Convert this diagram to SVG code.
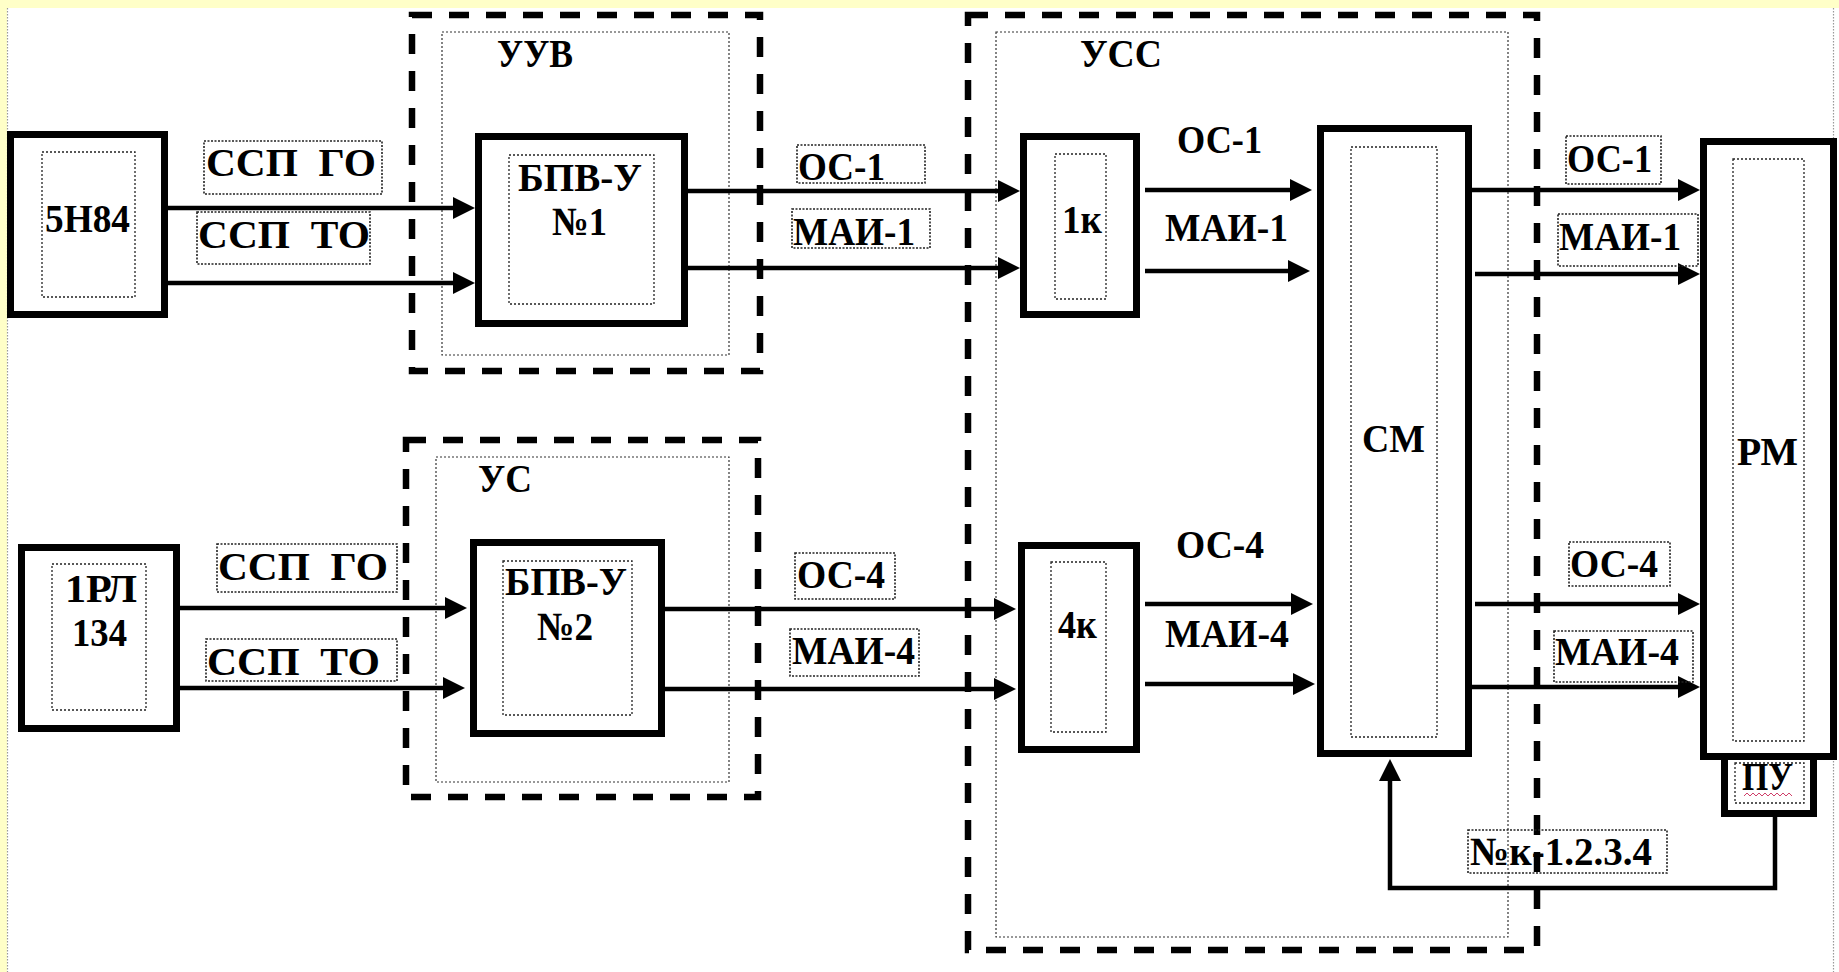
<svg xmlns="http://www.w3.org/2000/svg" width="1839" height="972" viewBox="0 0 1839 972">
<style>
text{font-family:"Liberation Serif","Times New Roman",serif;font-weight:bold;font-size:40px;fill:#000}
.box{fill:#fff;stroke:#000;stroke-width:7}
.in{fill:none;stroke:#222;stroke-width:1.3;stroke-dasharray:2 2}
.lbl{fill:none;stroke:#222;stroke-width:1.6;stroke-dasharray:2 1.5}
.grp{fill:none;stroke:#000;stroke-width:6.5;stroke-dasharray:20 17}
.gin{fill:none;stroke:#333;stroke-width:1.2;stroke-dasharray:2 2}
.edge{fill:none;stroke:#000;stroke-width:4.5}
.frame{stroke:#999;stroke-width:1.2;stroke-dasharray:1.5 1.5}
</style>
<defs>
<marker id="ah" markerUnits="userSpaceOnUse" markerWidth="22" markerHeight="22" refX="12" refY="11" orient="auto">
<path d="M0,0 L22,11 L0,22 z" fill="#000"/>
</marker>
</defs>
<rect x="0" y="0" width="1839" height="972" fill="#FFFFC8"/>
<rect x="7" y="8" width="1832" height="964" fill="#fff"/>
<line class="frame" x1="7.5" y1="8" x2="7.5" y2="972"/>
<line class="frame" x1="1833.5" y1="8" x2="1833.5" y2="972"/>

<g id="group-UUV">
<rect class="grp" x="412" y="15" width="348" height="356"/>
<rect class="gin" x="442" y="32" width="287" height="323"/>
<text x="497" y="67" textLength="76" lengthAdjust="spacingAndGlyphs">УУВ</text>
</g>
<g id="group-US">
<rect class="grp" x="406" y="440" width="352" height="357"/>
<rect class="gin" x="436" y="457" width="293" height="325"/>
<text x="478" y="492" textLength="54" lengthAdjust="spacingAndGlyphs">УС</text>
</g>
<g id="group-USS">
<rect class="grp" x="968" y="15" width="569" height="935"/>
<rect class="gin" x="996" y="32" width="512" height="905"/>
<text x="1080" y="67" textLength="82" lengthAdjust="spacingAndGlyphs">УСС</text>
</g>

<g id="node-5N84">
<rect class="box" x="10.5" y="134.5" width="154" height="180"/>
<rect class="in" x="42" y="152" width="93" height="145"/>
<text x="45" y="232" textLength="85" lengthAdjust="spacingAndGlyphs">5Н84</text>
</g>
<g id="node-1RL134">
<rect class="box" x="21.5" y="547.5" width="155" height="181"/>
<rect class="in" x="52" y="564" width="94" height="146"/>
<text x="65" y="602" textLength="72" lengthAdjust="spacingAndGlyphs">1РЛ</text>
<text x="72" y="646" textLength="55" lengthAdjust="spacingAndGlyphs">134</text>
</g>
<g id="node-BPVU1">
<rect class="box" x="478.5" y="136.5" width="206" height="187"/>
<rect class="in" x="509" y="155" width="145" height="149"/>
<text x="518" y="191" textLength="124" lengthAdjust="spacingAndGlyphs">БПВ-У</text>
<text x="552" y="235" textLength="55" lengthAdjust="spacingAndGlyphs">№1</text>
</g>
<g id="node-BPVU2">
<rect class="box" x="473.5" y="542.5" width="188" height="191"/>
<rect class="in" x="503" y="561" width="129" height="154"/>
<text x="505" y="595" textLength="122" lengthAdjust="spacingAndGlyphs">БПВ-У</text>
<text x="537" y="640" textLength="56" lengthAdjust="spacingAndGlyphs">№2</text>
</g>
<g id="node-1k">
<rect class="box" x="1023.5" y="136.5" width="113" height="178"/>
<rect class="in" x="1055" y="154" width="51" height="145"/>
<text x="1062" y="233" textLength="40" lengthAdjust="spacingAndGlyphs">1к</text>
</g>
<g id="node-4k">
<rect class="box" x="1021.5" y="545.5" width="115" height="204"/>
<rect class="in" x="1051" y="562" width="55" height="170"/>
<text x="1058" y="638" textLength="39" lengthAdjust="spacingAndGlyphs">4к</text>
</g>
<g id="node-SM">
<rect class="box" x="1320.5" y="128.5" width="148" height="625"/>
<rect class="in" x="1351" y="147" width="86" height="590"/>
<text x="1362" y="452" textLength="63" lengthAdjust="spacingAndGlyphs">СМ</text>
</g>
<g id="node-PU">
<path d="M1724.5,757 V813.5 H1813.5 V757" fill="#fff" stroke="#000" stroke-width="7"/>
<rect class="in" x="1735" y="763" width="69" height="40"/>
<text x="1742" y="790" font-size="34" textLength="51" lengthAdjust="spacingAndGlyphs">ПУ</text>
<polyline points="1744,796 1747,793 1750,796 1753,793 1756,796 1759,793 1762,796 1765,793 1768,796 1771,793 1774,796 1777,793 1780,796 1783,793 1786,796 1789,793 1792,796" fill="none" stroke="#d0406a" stroke-width="1"/>
</g>
<g id="node-RM">
<rect class="box" x="1703.5" y="141.5" width="130" height="615"/>
<rect class="in" x="1733" y="159" width="71" height="582"/>
<text x="1737" y="465" textLength="61" lengthAdjust="spacingAndGlyphs">РМ</text>
</g>

<g id="connectors">
<line class="edge" x1="168" y1="208" x2="465" y2="208" marker-end="url(#ah)"/>
<line class="edge" x1="168" y1="283" x2="465" y2="283" marker-end="url(#ah)"/>
<line class="edge" x1="688" y1="191" x2="1010" y2="191" marker-end="url(#ah)"/>
<line class="edge" x1="688" y1="268" x2="1010" y2="268" marker-end="url(#ah)"/>
<line class="edge" x1="1145" y1="190" x2="1302" y2="190" marker-end="url(#ah)"/>
<line class="edge" x1="1145" y1="271" x2="1300" y2="271" marker-end="url(#ah)"/>
<line class="edge" x1="1472" y1="190" x2="1690" y2="190" marker-end="url(#ah)"/>
<line class="edge" x1="1475" y1="274" x2="1690" y2="274" marker-end="url(#ah)"/>
<line class="edge" x1="180" y1="608" x2="457" y2="608" marker-end="url(#ah)"/>
<line class="edge" x1="180" y1="688" x2="455" y2="688" marker-end="url(#ah)"/>
<line class="edge" x1="665" y1="609" x2="1006" y2="609" marker-end="url(#ah)"/>
<line class="edge" x1="665" y1="689" x2="1006" y2="689" marker-end="url(#ah)"/>
<line class="edge" x1="1145" y1="604" x2="1303" y2="604" marker-end="url(#ah)"/>
<line class="edge" x1="1145" y1="684" x2="1305" y2="684" marker-end="url(#ah)"/>
<line class="edge" x1="1475" y1="604" x2="1690" y2="604" marker-end="url(#ah)"/>
<line class="edge" x1="1472" y1="687" x2="1690" y2="687" marker-end="url(#ah)"/>
<path class="edge" d="M1775,817 V888 H1390 V769" stroke-width="4" marker-end="url(#ah)"/>
</g>

<g id="labels">
<rect class="lbl" x="204" y="141" width="178" height="53"/>
<text x="206" y="176" xml:space="preserve" textLength="170" lengthAdjust="spacingAndGlyphs">ССП  ГО</text>
<rect class="lbl" x="197" y="212" width="173" height="52"/>
<text x="198" y="248" xml:space="preserve" textLength="172" lengthAdjust="spacingAndGlyphs">ССП  ТО</text>
<rect class="lbl" x="797" y="145" width="128" height="38"/>
<text x="798" y="180" textLength="87" lengthAdjust="spacingAndGlyphs">ОС-1</text>
<rect class="lbl" x="792" y="209" width="138" height="39"/>
<text x="793" y="245" textLength="122" lengthAdjust="spacingAndGlyphs">МАИ-1</text>
<text x="1177" y="153" textLength="85" lengthAdjust="spacingAndGlyphs">ОС-1</text>
<text x="1165" y="241" textLength="123" lengthAdjust="spacingAndGlyphs">МАИ-1</text>
<rect class="lbl" x="1566" y="136" width="95" height="48"/>
<text x="1567" y="172" textLength="85" lengthAdjust="spacingAndGlyphs">ОС-1</text>
<rect class="lbl" x="1558" y="214" width="140" height="52"/>
<text x="1559" y="250" textLength="122" lengthAdjust="spacingAndGlyphs">МАИ-1</text>
<rect class="lbl" x="217" y="544" width="180" height="48"/>
<text x="218" y="580" xml:space="preserve" textLength="170" lengthAdjust="spacingAndGlyphs">ССП  ГО</text>
<rect class="lbl" x="206" y="639" width="191" height="42"/>
<text x="207" y="675" xml:space="preserve" textLength="173" lengthAdjust="spacingAndGlyphs">ССП  ТО</text>
<rect class="lbl" x="795" y="553" width="100" height="46"/>
<text x="797" y="588" textLength="88" lengthAdjust="spacingAndGlyphs">ОС-4</text>
<rect class="lbl" x="790" y="629" width="129" height="47"/>
<text x="792" y="664" textLength="123" lengthAdjust="spacingAndGlyphs">МАИ-4</text>
<text x="1176" y="558" textLength="88" lengthAdjust="spacingAndGlyphs">ОС-4</text>
<text x="1165" y="647" textLength="124" lengthAdjust="spacingAndGlyphs">МАИ-4</text>
<rect class="lbl" x="1569" y="542" width="101" height="44"/>
<text x="1570" y="577" textLength="88" lengthAdjust="spacingAndGlyphs">ОС-4</text>
<rect class="lbl" x="1554" y="631" width="139" height="51"/>
<text x="1555" y="665" textLength="124" lengthAdjust="spacingAndGlyphs">МАИ-4</text>
<rect class="lbl" x="1468" y="830" width="199" height="43"/>
<text x="1470" y="865" textLength="182" lengthAdjust="spacingAndGlyphs">№к-1.2.3.4</text>
</g>
</svg>
